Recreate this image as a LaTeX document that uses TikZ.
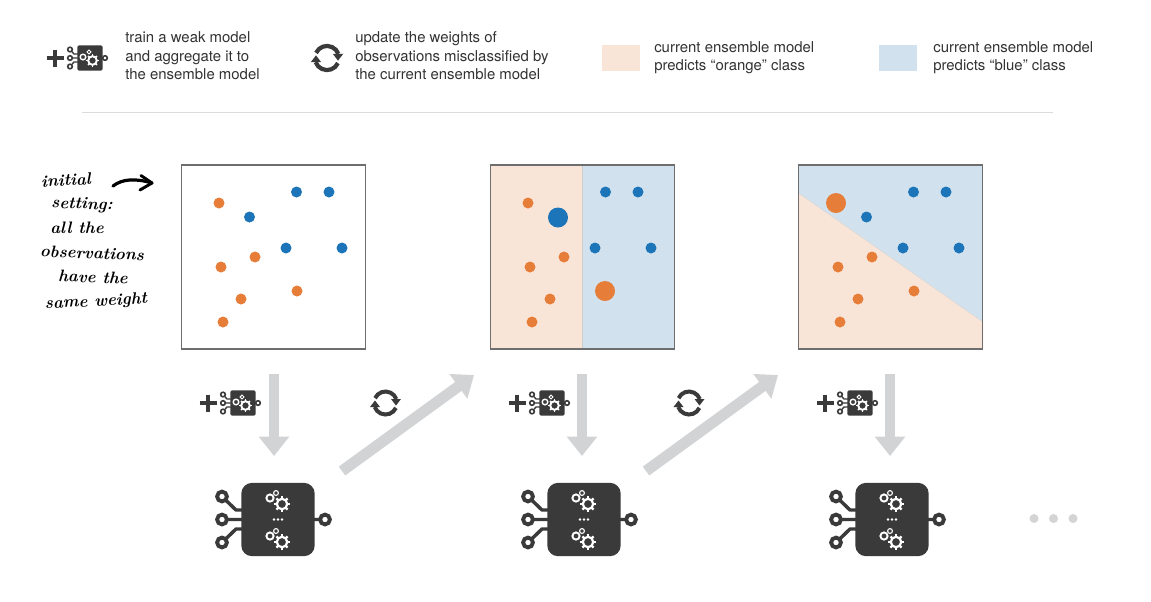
\documentclass[tikz,border=0pt]{standalone}
\usepackage{fontspec}
\setmainfont{TeX Gyre Heros}
\newfontfamily\handfont{Latin Modern Roman}
\usetikzlibrary{arrows.meta}
\definecolor{dark}{HTML}{3A3A3A}
\definecolor{txt}{HTML}{333333}
\definecolor{org}{HTML}{E67E3A}
\definecolor{blu}{HTML}{1C75B8}
\definecolor{lorg}{HTML}{F9E5D8}
\definecolor{lblu}{HTML}{D1E2EE}
\definecolor{frame}{HTML}{6E6E6E}
\definecolor{arr}{HTML}{D2D3D4}
\tikzset{
  legend/.style={anchor=west,inner sep=0pt,align=left,text=txt,font=\fontsize{11.2}{13.8}\selectfont},
  hand/.style={inner sep=0pt,text=black,font=\handfont\itshape\bfseries\fontsize{12.5}{14}\selectfont},
  bigarrow/.style={draw=arr,line width=8.2pt,-{Triangle[width=22pt,length=14.5pt]}},
  panel/.style={draw=frame,line width=1.1pt,minimum width=138pt,minimum height=138pt,inner sep=0pt},
  swatch/.style={minimum width=28.5pt,minimum height=19.5pt,inner sep=0pt},
  bigbody/.style={fill=dark,rounded corners=8pt,minimum width=55pt,minimum height=55pt,inner sep=0pt},
  smallbody/.style={fill=dark,rounded corners=1.5pt,minimum width=19pt,minimum height=19pt,inner sep=0pt},
  wire/.style={draw=dark,line join=round},
}
% gear: x, y, ring radius, ring width, tooth length, tooth width (px)
\newcommand{\gearring}[6]{%
  \begin{scope}[shift={(#1,#2)}]
    \draw[white,line width=#4*0.75pt] (0,0) circle[radius=#3];
    \foreach \a in {0,45,...,315}
      \draw[white,line width=#6*0.75pt] (\a:#3) -- (\a:#3+#5);
  \end{scope}}
\newcommand{\plainring}[4]{%
  \draw[white,line width=#4*0.75pt] (#1,#2) circle[radius=#3];}
\newcommand{\cycleicon}[4]{%
  \begin{scope}[shift={(#2,#3)},scale=#4]
    \coordinate (#1) at (0,0);
    \draw[dark,line width=#4*3pt] (205:11.5) arc[start angle=205,end angle=340,radius=11.5];
    \draw[dark,line width=#4*3pt] (25:11.5) arc[start angle=25,end angle=160,radius=11.5];
    \fill[dark] (5.5,-4) -- (15.5,-4) -- (10.5,2.5) -- cycle;
    \fill[dark] (-5.5,4) -- (-15.5,4) -- (-10.5,-2.5) -- cycle;
  \end{scope}}
\newcommand{\weakicon}[3]{%
  \begin{scope}[shift={(#2,#3)}]
    \node[smallbody] (#1) at (0,0) {};
    \draw[dark,line width=3.4pt] (-43.5,0) -- (-26.5,0) (-35,-8.5) -- (-35,8.5);
    \draw[wire,line width=1pt] (-20,-8.5) -- (-16,-4) -- (-12,-4) (-20,0) -- (-12,0) (-20,8.5) -- (-16,4) -- (-12,4) (12,0) -- (15,0);
    \foreach \x/\y in {-20/-8.5,-20/0,-20/8.5,15/0}
      \draw[dark,fill=white,line width=1.2pt] (\x,\y) circle[radius=2.3];
    \plainring{-7}{-1}{2.8}{1.4}
    \plainring{-1}{-6}{1.9}{0.9}
    \gearring{2.5}{2.5}{4.3}{1.9}{2}{1.7}
  \end{scope}}
\newcommand{\bigchip}[3]{%
  \begin{scope}[shift={(#2,#3)}]
    \node[bigbody] (#1) at (0,0) {};
    \draw[wire,line width=2.6pt] (-56,-23) -- (-42,-9.5) -- (-36,-9.5) (-56,0) -- (-36,0) (-56,23) -- (-42,9.5) -- (-36,9.5) (36,0) -- (47,0);
    \foreach \x/\y in {-56/-23,-56/0,-56/23,47/0}
      \draw[dark,fill=white,line width=2.9pt] (\x,\y) circle[radius=4.9];
    \foreach \dy in {0,38}{
      \plainring{-8}{-21.5+\dy}{3.6}{1.9}
      \plainring{-2}{-26.5+\dy}{2.4}{1.1}
      \gearring{4}{-15.5+\dy}{5.2}{2.2}{2.6}{2.3}
    }
    \foreach \x in {-4,0,4} \fill[white] (\x,0) circle[radius=1.3];
  \end{scope}}
\newcommand{\pointsA}{%
  \foreach \x/\y in {219/203,255/257,221/267,241/299,297/291,223/322}
    \fill[org] (\x,\y) circle[radius=5.5];}
\newcommand{\pointsB}{%
  \foreach \x/\y in {296.5/192,329/192,249.5/217,286/248,342/248}
    \fill[blu] (\x,\y) circle[radius=5.5];}
\begin{document}
\begin{tikzpicture}[x=0.75pt,y=-0.75pt]
\useasboundingbox (0,0) rectangle (1151,601);
\fill[white] (0,0) rectangle (1151,601);
% legend
\weakicon{leg1}{90}{58}
\node[legend] (t1) at (125,56) {train a weak model\\and aggregate it to\\the ensemble model};
\cycleicon{leg2}{327}{58}{1.05}
\node[legend] (t2) at (355,56) {update the weights of\\observations misclassified by\\the current ensemble model};
\node[swatch,fill=lorg] (s1) at (621,58) {};
\node[legend] (t3) at (654,57.5) {current ensemble model\\predicts “orange” class};
\node[swatch,fill=lblu] (s2) at (898,58) {};
\node[legend] (t4) at (933,57.5) {current ensemble model\\predicts “blue” class};
\coordinate (sepa) at (82,112.5);
\coordinate (sepb) at (1053,112.5);
\draw[draw=black!14,line width=0.6pt] (sepa) -- (sepb);
% handwritten note
\node[hand] (h1) at (66,180) [rotate=3] {initial};
\node[hand] (h2) at (82,205) [rotate=-2] {setting:};
\node[hand] (h3) at (77,228) {all the};
\node[hand] (h4) at (92,253) [rotate=-2] {observations};
\node[hand] (h5) at (93,277) [rotate=-2] {have the};
\node[hand] (h6) at (96,302) [rotate=3] {same weight};
\coordinate (ha) at (113,186);
\coordinate (hb) at (152,183);
\draw[black,line width=2.4pt,line cap=round] (ha) .. controls (122,179) and (135,178) .. (hb);
\draw[black,line width=2.2pt,line cap=round,line join=round] (141,175.5) -- (hb) -- (140,190);
% panel 1
\node[panel] (p1) at (273.5,257) {};
\pointsA \pointsB
% panel 2
\fill[lorg] (490.5,165) rectangle (582.5,349);
\fill[lblu] (582.5,165) rectangle (675,349);
\draw[black!20,line width=0.5pt] (582.5,165) -- (582.5,349);
\node[panel] (p2) at (582.5,257) {};
\begin{scope}[shift={(309,0)}] \pointsA \pointsB \end{scope}
\fill[blu] (558,217.5) circle[radius=10];
\fill[org] (605,291) circle[radius=10];
% panel 3
\fill[lblu] (798.5,165) rectangle (983,349);
\fill[lorg] (798.5,193) -- (983,322) -- (983,349) -- (798.5,349) -- cycle;
\draw[black!15,line width=0.5pt] (798.5,193) -- (983,322);
\node[panel] (p3) at (890.5,257) {};
\begin{scope}[shift={(617,0)}] \pointsA \pointsB \end{scope}
\fill[org] (836,203) circle[radius=10];
% weak model icons
\weakicon{w1}{243}{403}
\weakicon{w2}{552}{403}
\weakicon{w3}{860}{403}
\cycleicon{cy1}{385.5}{403}{1}
\cycleicon{cy2}{689}{403}{1}
% big chips
\bigchip{c1}{278}{519.5}
\bigchip{c2}{584}{519.5}
\bigchip{c3}{892}{519.5}
% arrows
\coordinate (a1s) at (274,374); \coordinate (a1e) at (274,456);
\coordinate (a2s) at (582,374); \coordinate (a2e) at (582,456);
\coordinate (a3s) at (890,374); \coordinate (a3e) at (890,456);
\coordinate (d1s) at (342,471); \coordinate (d1e) at (474,375);
\coordinate (d2s) at (646,471); \coordinate (d2e) at (778,375);
\foreach \s/\e in {a1s/a1e,a2s/a2e,a3s/a3e,d1s/d1e,d2s/d2e}
  \draw[bigarrow] (\s) -- (\e);
% ellipsis dots
\foreach \x in {1034,1053.5,1073}
  \fill[black!17] (\x,518.5) circle[radius=4.5];
\end{tikzpicture}
\end{document}
